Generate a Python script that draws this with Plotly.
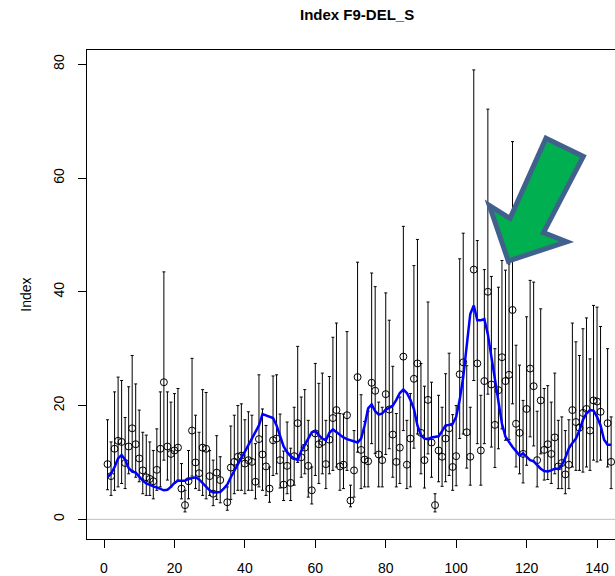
import plotly.graph_objects as go

# Sample number along the x axis
sample_no = list(range(1, 145))

# Index estimate per sample (None = no estimate)
index_val = [
    9.7, 7.6, 12.4, 13.8, 13.6, 9.9, 12.8, 16.0, 13.2, 10.7,
    8.6, 7.4, 7.1, 6.7, 8.7, 12.4, 24.1, 12.8, 11.5, 12.1,
    12.6, 5.4, 2.5, 6.7, 15.6, 10.0, 8.1, 12.6, 12.4, 7.6,
    4.5, 8.2, 6.9, None, 3.0, 9.1, 10.1, 11.0, 11.2, 9.8,
    10.4, 10.1, 6.6, 14.1, 11.4, 9.3, 5.4, 13.9, 14.2, 10.4,
    6.1, 9.4, 6.4, 11.1, 16.9, 10.9, 12.6, 9.4, 5.1, 15.1,
    13.2, 13.6, 9.7, 14.0, 17.8, 19.2, 9.3, 9.6, 18.3, 3.3,
    8.6, 25.0, 12.2, 10.5, 10.2, 24.0, 22.6, 11.4, 10.4, 22.0,
    19.3, 14.9, 10.1, 12.6, 28.6, 9.6, 14.2, 24.7, 27.4, 15.2,
    10.4, 21.0, 13.5, 2.5, 12.1, 11.0, 14.2, 16.0, 9.2, 11.1,
    25.5, 27.6, 15.3, 11.0, 43.9, 27.4, 12.1, 24.3, 40.0, 23.7,
    16.6, 22.7, 28.5, 24.3, 25.4, 36.8, 16.8, 15.2, 11.5, 19.4,
    26.5, 23.4, 10.4, 20.9, 12.2, 13.2, 11.5, 14.4, 9.3, 9.9,
    7.9, 9.6, 19.2, 17.1, 16.1, 18.7, 19.4, 15.6, 20.9, 20.7,
    18.9, None, 16.9, 10.1,
]

# Lower and upper interval limits
ci_low = [
    5.2, 4.2, 5.1, 5.7, 6.3, 5.4, 8.0, 8.6, 7.4, 6.6,
    4.5, 4.2, 4.2, 3.6, 5.1, 5.7, 10.4, 6.9, 5.7, 6.3,
    6.9, 3.6, 1.3, 3.6, 7.6, 5.4, 5.1, 4.2, 3.6, 4.2,
    2.4, 3.5, 2.9, None, 1.6, 3.5, 4.5, 5.1, 5.1, 4.5,
    5.1, 5.1, 3.6, 5.7, 5.1, 4.2, 3.0, 7.7, 8.0, 5.5,
    3.3, 4.5, 3.3, 6.0, 10.0, 7.4, 8.0, 3.9, 2.7, 7.7,
    6.3, 8.0, 5.4, 8.0, 8.6, 9.2, 5.1, 5.4, 8.6, 2.2,
    3.9, 11.8, 5.4, 5.7, 5.7, 13.3, 11.6, 5.7, 5.7, 11.4,
    12.4, 7.4, 5.7, 6.3, 15.6, 5.4, 5.7, 12.5, 15.0, 8.0,
    5.5, 11.5, 7.4, 1.3, 6.6, 5.8, 6.6, 7.7, 5.1, 5.9,
    14.2, 15.0, 9.0, 6.0, 24.4, 13.3, 6.0, 13.3, 22.0, 12.7,
    9.1, 12.4, 15.9, 13.9, 14.0, 20.3, 9.2, 8.0, 6.4, 9.5,
    14.5, 12.9, 5.7, 11.5, 6.9, 7.0, 6.3, 8.0, 5.4, 5.4,
    4.5, 5.4, 9.2, 8.6, 8.6, 8.3, 9.2, 8.6, 10.4, 10.1,
    10.4, None, 9.2, 5.4,
]
ci_high = [
    17.5, 13.6, 22.4, 25.0, 24.4, 17.9, 23.3, 28.8, 23.8, 19.2,
    15.3, 14.8, 13.6, 12.1, 15.9, 22.4, 43.5, 22.4, 20.6, 22.1,
    23.0, 9.8, 5.1, 12.1, 28.3, 18.3, 15.3, 22.8, 22.3, 12.1,
    10.4, 14.7, 11.0, None, 5.7, 16.4, 18.3, 20.0, 20.3, 17.5,
    18.9, 18.3, 13.3, 25.4, 19.4, 16.5, 9.2, 25.2, 25.4, 18.5,
    12.0, 17.1, 12.5, 19.7, 30.4, 21.5, 22.8, 17.4, 9.2, 27.4,
    23.9, 25.7, 17.4, 25.1, 32.0, 34.5, 18.6, 18.5, 33.0, 6.0,
    15.6, 45.2, 21.9, 17.2, 19.0, 43.3, 40.9, 20.6, 19.7, 39.8,
    35.0, 26.9, 18.6, 21.5, 51.5, 17.4, 22.1, 44.6, 49.2, 27.4,
    23.4, 38.2, 24.1, 4.5, 21.8, 19.7, 25.6, 29.2, 18.4, 20.0,
    45.8, 50.3, 27.0, 19.7, 79.0, 49.0, 21.8, 43.9, 72.1, 42.7,
    30.0, 40.8, 45.5, 43.8, 44.9, 66.4, 30.6, 27.1, 20.9, 35.6,
    42.0, 41.7, 19.0, 37.0, 23.0, 23.5, 20.6, 25.7, 17.4, 18.0,
    15.6, 17.5, 34.5, 31.2, 28.8, 33.5, 35.4, 28.2, 37.6, 37.3,
    33.9, None, 30.0, 18.0,
]

# Smoothed trend of the index
smooth = [
    7.4, 8.0, 9.2, 10.7, 11.3, 10.5, 9.0, 8.4, 8.2, 7.4,
    6.8, 6.3, 6.0, 5.8, 5.6, 5.3, 5.1, 5.2, 5.7, 6.4,
    6.8, 6.8, 6.8, 7.1, 7.3, 7.4, 7.0, 6.3, 5.6, 5.1,
    4.7, 4.7, 4.8, 5.4, 6.1, 7.4, 8.6, 9.8, 10.8, 11.9,
    13.0, 14.2, 15.2, 16.5, 18.5, 18.3, 18.1, 17.8, 16.5, 14.8,
    12.8, 11.8, 11.1, 10.7, 10.4, 12.0, 13.2, 14.2, 15.3, 15.5,
    14.8, 14.2, 13.9, 15.2, 15.8, 15.3, 14.8, 14.4, 14.1, 13.9,
    13.6, 13.5, 14.2, 16.5, 19.5, 20.2, 19.0, 18.4, 18.6, 19.3,
    19.6, 20.0, 21.0, 22.2, 22.8, 22.2, 21.0, 19.4, 16.5, 14.8,
    14.2, 14.1, 14.4, 14.5, 14.6, 15.5, 16.5, 16.6, 16.8, 18.0,
    21.0, 25.0, 30.3, 36.1, 37.6, 35.0, 35.0, 35.2, 32.5, 28.5,
    24.5, 20.5, 16.8, 14.5, 13.5, 12.7, 12.0, 11.2, 11.6, 11.0,
    10.4, 10.2, 9.6, 8.9, 8.5, 8.4, 8.6, 8.9, 8.9, 9.5,
    10.8, 12.5, 13.4, 14.2, 15.6, 17.5, 18.6, 19.2, 19.1, 18.0,
    16.5, 14.0, 13.1, 13.1,
]

x_ticks = [0, 20, 40, 60, 80, 100, 120, 140]
y_ticks = [0, 20, 40, 60, 80]

# Callout arrow outline (data units)
arrow_x = [125.5, 136.1, 124.8, 131.4, 114.8, 109.4, 115.3]
arrow_y = [67.0, 63.8, 50.4, 48.8, 45.4, 55.2, 52.9]

FONT = "Liberation Sans, Arial, sans-serif"

pts = [(x, v, lo, hi) for x, v, lo, hi in zip(sample_no, index_val, ci_low, ci_high) if v is not None]
px = [p[0] for p in pts]
pv = [p[1] for p in pts]
err_up = [p[3] - p[1] for p in pts]
err_dn = [p[1] - p[2] for p in pts]

fig = go.Figure()

fig.add_trace(go.Scatter(
    x=px, y=pv, mode="markers",
    marker=dict(symbol="circle-open", size=7, color="black", line=dict(width=1, color="black")),
    error_y=dict(type="data", symmetric=False, array=err_up, arrayminus=err_dn,
                 color="black", thickness=1, width=1.5),
    showlegend=False, hoverinfo="skip",
))

fig.add_trace(go.Scatter(
    x=sample_no, y=smooth, mode="lines",
    line=dict(color="#0000FF", width=2.5),
    showlegend=False, hoverinfo="skip",
))

# horizontal reference at zero
fig.add_shape(type="line", xref="paper", x0=0, x1=1, yref="y", y0=0, y1=0,
              line=dict(color="#BEBEBE", width=1), layer="below")

path = "M " + " L ".join(f"{x},{y}" for x, y in zip(arrow_x, arrow_y)) + " Z"
fig.add_shape(type="path", path=path, xref="x", yref="y",
              fillcolor="#00B050", line=dict(color="#41618D", width=5), layer="above")

fig.add_annotation(text="<b>Index F9-DEL_S</b>", xref="paper", yref="paper",
                   x=0.511, y=1.0716, xanchor="center", yanchor="middle",
                   showarrow=False, font=dict(family=FONT, size=15, color="black"))
fig.add_annotation(text="Index", xref="paper", yref="paper",
                   x=-0.117, y=0.5, xanchor="center", yanchor="middle", textangle=-90,
                   showarrow=False, font=dict(family=FONT, size=14, color="black"))

fig.update_layout(
    width=615, height=576,
    margin=dict(l=87, r=0, t=50, b=37),
    paper_bgcolor="white", plot_bgcolor="white",
    font=dict(family=FONT, size=14, color="black"),
    xaxis=dict(range=[-4.83, 145.1], tickvals=x_ticks, ticks="outside", ticklen=8,
               tickcolor="black", showgrid=False, zeroline=False,
               showline=True, linecolor="black", linewidth=1, mirror=True,
               ticklabelstandoff=8),
    yaxis=dict(range=[-3.46, 82.5], tickvals=y_ticks, ticks="outside", ticklen=8,
               tickcolor="black", showgrid=False, zeroline=False, tickangle=-90,
               showline=True, linecolor="black", linewidth=1,
               ticklabelstandoff=8),
)

fig.write_html("out.html")
